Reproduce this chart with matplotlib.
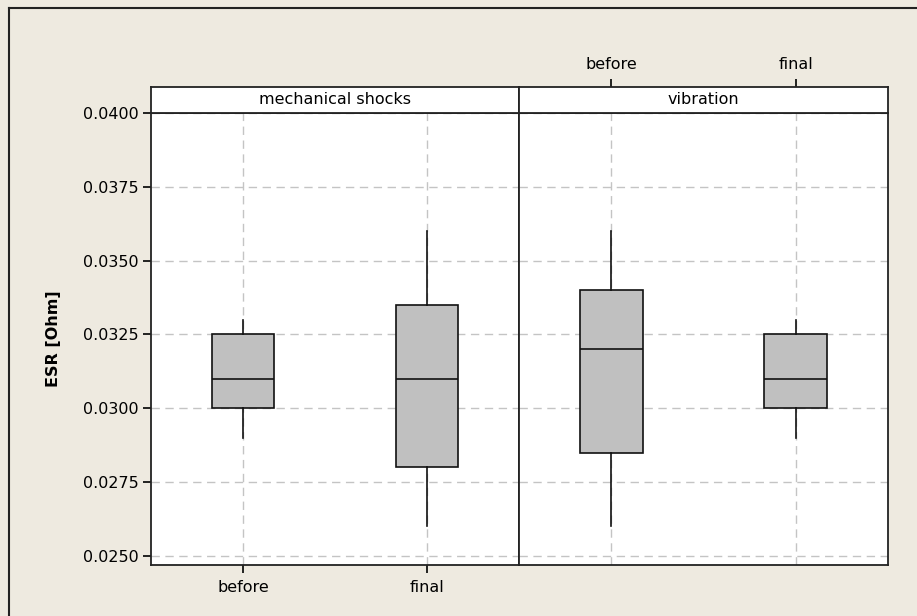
import matplotlib.pyplot as plt
from matplotlib.lines import Line2D

# box statistics (ESR in Ohm)
panels = ["mechanical shocks", "vibration"]
groups = ["before", "final"]
whislo = [[0.0290, 0.0260], [0.0260, 0.0290]]
q1 = [[0.0300, 0.0280], [0.0285, 0.0300]]
med = [[0.0310, 0.0310], [0.0320, 0.0310]]
q3 = [[0.0325, 0.0335], [0.0340, 0.0325]]
whishi = [[0.0330, 0.0360], [0.0360, 0.0330]]
yticks = [0.0250, 0.0275, 0.0300, 0.0325, 0.0350, 0.0375, 0.0400]

BG = "#EEEAE0"
W, H = 917, 616
FS = 11.5

fig = plt.figure(figsize=(W / 100, H / 100), dpi=100, facecolor=BG)

# outer frame (left and top edges visible)
fig.add_artist(Line2D([9 / W, 9 / W], [0, 1 - 8 / H], color="#222222", lw=1.5,
                      transform=fig.transFigure))
fig.add_artist(Line2D([9 / W, 1], [1 - 8 / H, 1 - 8 / H], color="#222222", lw=1.5,
                      transform=fig.transFigure))

lefts = [151, 519]
rights = [519, 888]
bottom, top, strip_top = 565, 113, 87

for p in range(2):
    x0 = lefts[p] / W
    w = (rights[p] - lefts[p]) / W
    ax = fig.add_axes([x0, 1 - bottom / H, w, (bottom - top) / H])
    stats = []
    for g in range(2):
        stats.append(dict(whislo=whislo[p][g], q1=q1[p][g], med=med[p][g],
                          q3=q3[p][g], whishi=whishi[p][g], fliers=[]))
    ax.bxp(stats, positions=[1, 2], widths=0.34, patch_artist=True, showcaps=False,
           boxprops=dict(facecolor="#C0C0C0", edgecolor="#111111", lw=1.2),
           medianprops=dict(color="#111111", lw=1.2),
           whiskerprops=dict(color="#111111", lw=1.2))
    ax.set_xlim(0.5, 2.5)
    ax.set_ylim(0.024695, 0.0400)
    ax.set_yticks(yticks)
    ax.grid(True, color="#C4C4C4", ls=(0, (6, 4)), lw=1)
    ax.set_axisbelow(True)
    for s in ax.spines.values():
        s.set_linewidth(1.3)
        s.set_color("#222222")
    if p == 0:
        ax.set_yticklabels(["%.4f" % v for v in yticks], fontsize=FS)
        ax.tick_params(axis="y", length=6, width=1.2, pad=3)
        ax.set_xticks([1, 2])
        ax.set_xticklabels(groups, fontsize=FS)
        ax.tick_params(axis="x", length=6, width=1.2, pad=5)
        ax.set_ylabel("ESR [Ohm]", fontsize=FS, fontweight="bold", labelpad=16)
    else:
        ax.set_xticks([1, 2])
        ax.tick_params(axis="both", length=0, labelleft=False, labelbottom=False)

    # strip header
    sx = fig.add_axes([x0, 1 - top / H, w, (top - strip_top) / H])
    sx.set_xlim(0.5, 2.5)
    sx.set_ylim(0, 1)
    sx.set_yticks([])
    sx.text(1.5, 0.5, panels[p], ha="center", va="center", fontsize=FS)
    for s in sx.spines.values():
        s.set_linewidth(1.3)
        s.set_color("#222222")
    if p == 1:
        sx.set_xticks([1, 2])
        sx.set_xticklabels(groups, fontsize=FS)
        sx.tick_params(axis="x", bottom=False, labelbottom=False, top=True,
                       labeltop=True, length=6, width=1.2, pad=5)
    else:
        sx.set_xticks([])

fig.savefig("out.png", dpi=100, facecolor=BG)
